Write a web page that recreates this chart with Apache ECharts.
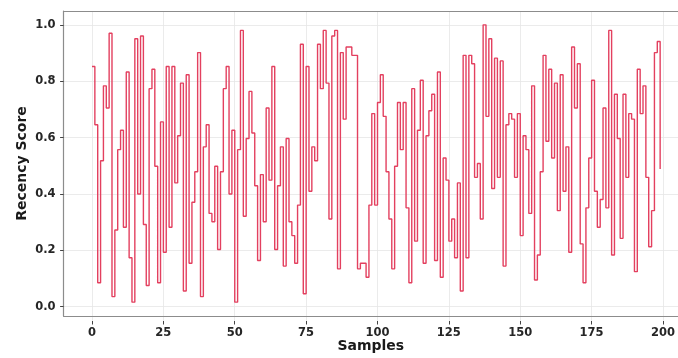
<!DOCTYPE html>
<html><head><meta charset="utf-8">
<script src="https://cdn.jsdelivr.net/npm/echarts@6/dist/echarts.min.js"></script>
<style>html,body{margin:0;padding:0;background:#fff}#c{width:678px;height:358px}</style>
</head><body><div id="c"></div>
<script>
const xTicks = [0, 25, 50, 75, 100, 125, 150, 175, 200];
const yTicks = [0.0, 0.2, 0.4, 0.6, 0.8, 1.0];
const recency = [
0.85,0.64,0.07,0.51,0.78,0.70,0.97,0.02,0.26,0.55,
0.62,0.27,0.83,0.16,0.00,0.95,0.39,0.96,0.28,0.06,
0.77,0.84,0.49,0.07,0.65,0.18,0.85,0.27,0.85,0.43,
0.60,0.79,0.04,0.82,0.14,0.36,0.47,0.90,0.02,0.56,
0.64,0.32,0.29,0.49,0.19,0.47,0.77,0.85,0.39,0.62,
0.00,0.55,0.98,0.31,0.59,0.76,0.61,0.42,0.15,0.46,
0.29,0.70,0.44,0.85,0.19,0.42,0.56,0.13,0.59,0.29,
0.24,0.14,0.35,0.93,0.03,0.85,0.40,0.56,0.51,0.93,
0.77,0.98,0.79,0.30,0.96,0.98,0.12,0.90,0.66,0.92,
0.92,0.89,0.89,0.12,0.14,0.14,0.09,0.35,0.68,0.35,
0.72,0.82,0.67,0.47,0.30,0.12,0.49,0.72,0.55,0.72,
0.34,0.07,0.77,0.22,0.62,0.80,0.14,0.60,0.69,0.75,
0.15,0.83,0.09,0.52,0.44,0.22,0.30,0.16,0.43,0.04,
0.89,0.16,0.89,0.86,0.45,0.50,0.30,1.00,0.67,0.95,
0.41,0.88,0.45,0.87,0.13,0.64,0.68,0.66,0.45,0.68,
0.24,0.60,0.55,0.32,0.78,0.08,0.17,0.47,0.89,0.58,
0.84,0.52,0.79,0.33,0.82,0.40,0.56,0.18,0.92,0.70,
0.86,0.21,0.07,0.34,0.52,0.80,0.40,0.27,0.37,0.70,
0.34,0.98,0.17,0.75,0.59,0.23,0.75,0.45,0.68,0.66,
0.11,0.84,0.68,0.78,0.45,0.20,0.33,0.90,0.94,0.48
];
const xLabel = 'Samples';
const yLabel = 'Recency Score';

const FONT = 'DejaVu Sans';
const chart = echarts.init(document.getElementById('c'), null, {renderer:'canvas'});
const n = recency.length - 1;
const xMin = -0.05 * n;          // matplotlib-style 5% margin
const pxPerUnit = 2.855;
const xMax = (678 - 92) / pxPerUnit; // plot is clipped at the right edge of the figure
const spine = {show:true, onZero:false, lineStyle:{color:'#8c8c8c', width:1.2}};
const tickStyle = {show:true, inside:false, length:3.5, lineStyle:{color:'#444', width:1}};
const gridLine = {show:true, lineStyle:{color:'#e6e6e6', width:0.8}};
chart.setOption({
  backgroundColor:'#ffffff',
  animation:false,
  grid:[
    {left:63.6, right:0, top:11, bottom:37, show:false},
    {left:92, right:14.9, top:11, bottom:37, show:false},
    {left:63.6, right:0, top:25, bottom:51.3, show:false}
  ],
  xAxis:[
    {gridIndex:0, type:'value', position:'bottom', min:xMin, max:xMax, axisLine:spine, axisTick:{show:false}, axisLabel:{show:false}, splitLine:{show:false},
     name:xLabel, nameLocation:'middle', nameGap:23, nameTextStyle:{fontFamily:FONT, fontWeight:'bold', fontSize:14, color:'#1a1a1a'}},
    {gridIndex:1, type:'value', min:xTicks[0], max:xTicks[xTicks.length-1], interval:25, axisLine:{show:false, onZero:false}, axisTick:tickStyle, splitLine:gridLine,
     axisLabel:{fontFamily:FONT, fontWeight:'bold', fontSize:11.5, color:'#262626', margin:6}},
    {gridIndex:2, type:'value', min:0, max:1, show:false},
    {gridIndex:0, type:'value', position:'top', min:xMin, max:xMax, axisLine:spine, axisTick:{show:false}, axisLabel:{show:false}, splitLine:{show:false}}
  ],
  yAxis:[
    {gridIndex:0, type:'value', position:'left', min:-0.05, max:1.05, axisLine:spine, axisTick:{show:false}, axisLabel:{show:false}, splitLine:{show:false},
     name:yLabel, nameLocation:'middle', nameGap:34, nameRotate:90, nameTextStyle:{fontFamily:FONT, fontWeight:'bold', fontSize:14, color:'#1a1a1a'}},
    {gridIndex:1, type:'value', min:0, max:1, show:false},
    {gridIndex:2, type:'value', min:yTicks[0], max:yTicks[yTicks.length-1], interval:0.2, axisLine:{show:false, onZero:false}, axisTick:tickStyle, splitLine:gridLine,
     axisLabel:{fontFamily:FONT, fontWeight:'bold', fontSize:11.5, color:'#262626', margin:8, formatter:v=>v.toFixed(1)}}
  ],
  series:[{
    type:'line', xAxisIndex:0, yAxisIndex:0, step:'end', showSymbol:false, silent:true, z:3,
    lineStyle:{color:'#e3405f', width:1.4},
    data: recency.map((v,i)=>[i,v])
  }]
});
</script></body></html>
